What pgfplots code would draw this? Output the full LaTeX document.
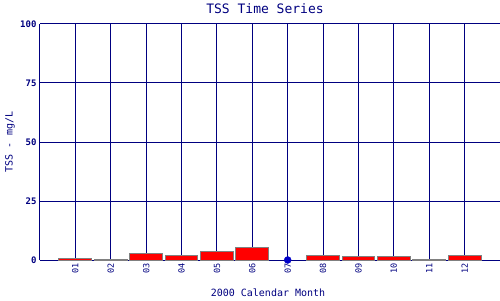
\documentclass[border=0pt]{standalone}
\usepackage{pgfplots}
\pgfplotsset{compat=1.18}
\usepackage{fontspec}
\setmainfont{DejaVu Sans Mono}
\setmonofont{DejaVu Sans Mono}
\definecolor{navy}{RGB}{0,0,128}
\definecolor{dotblue}{RGB}{0,0,200}
\definecolor{bargray}{RGB}{128,128,128}
\begin{document}
\begin{tikzpicture}[x=1pt,y=1pt]
\useasboundingbox (-40,-40) rectangle (460,260);
\begin{axis}[
  at={(0,0)}, anchor=south west,
  scale only axis, width=460pt, height=236pt,
  xmin=0, xmax=13, ymin=0, ymax=100,
  xtick={1,2,3,4,5,6,7,8,9,10,11,12},
  xticklabels={01,02,03,04,05,06,07,08,09,10,11,12},
  ytick={0,25,50,75,100},
  axis x line*=bottom, axis y line*=left,
  axis line style={navy, line width=1pt, -},
  grid=major, grid style={navy, line width=1pt},
  major tick length=0pt,
  x tick label style={rotate=90, anchor=east, font=\fontsize{8.5}{9}\selectfont, text=navy},
  y tick label style={font=\fontsize{9}{10}\selectfont\bfseries, text=navy},
  /pgf/number format/assume math mode=true,
  clip=false,
]
\addplot[ybar, bar width=0.93, fill=red, draw=bargray, line width=1pt] coordinates {
 (1,0.7) (2,0.2) (3,2.8) (4,1.7) (5,3.4) (6,5.5) (8,2.0) (9,1.6) (10,1.6) (11,0.2) (12,2.1)
};
\addplot[only marks, mark=*, mark size=3.5pt, color=dotblue] coordinates {(7,0)};
\end{axis}
\node[text=navy, font=\fontsize{13}{15}\selectfont] at (225,251) {TSS Time Series};
\node[text=navy, font=\fontsize{10}{12}\selectfont] at (228,-33) {2000 Calendar Month};
\node[text=navy, font=\fontsize{10}{12}\selectfont, rotate=90] at (-30,118) {TSS - mg/L};
\end{tikzpicture}
\end{document}
